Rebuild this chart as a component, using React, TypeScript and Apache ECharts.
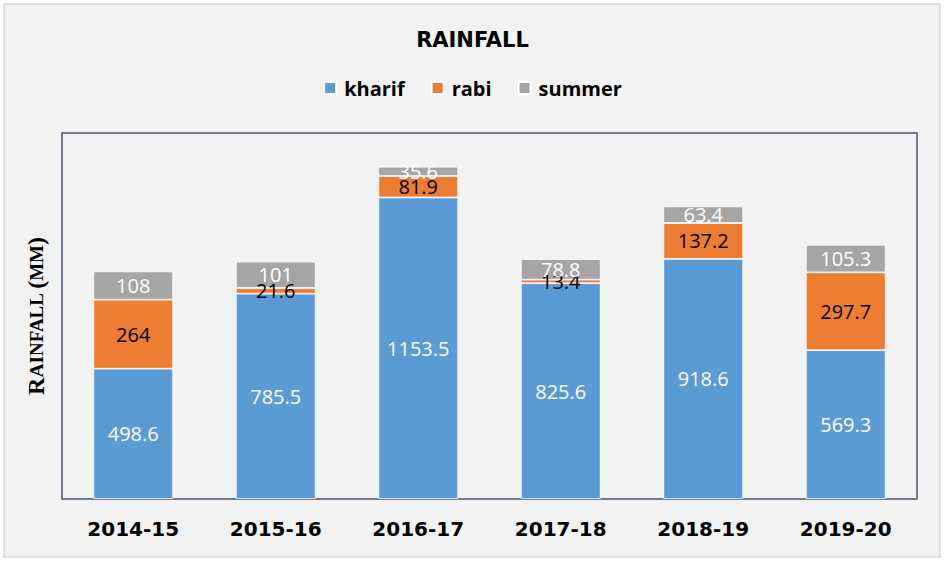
import React, { useEffect, useRef } from "react";
import * as echarts from "echarts";

const categories = ["2014-15", "2015-16", "2016-17", "2017-18", "2018-19", "2019-20"];
const kharif = [498.6, 785.5, 1153.5, 825.6, 918.6, 569.3];
const rabi = [264, 21.6, 81.9, 13.4, 137.2, 297.7];
const summer = [108, 101, 35.6, 78.8, 63.4, 105.3];

const labelBase = {
  show: true,
  position: "inside" as const,
  fontFamily: "Open Sans",
  fontSize: 20,
  textBorderWidth: 0,
};

export default function App() {
  const ref = useRef<HTMLDivElement>(null);
  useEffect(() => {
    document.body.style.margin = "0";
    if (!ref.current) return;
    const chart = echarts.init(ref.current, null, { renderer: "svg" });
    chart.setOption({
      animation: false,
      backgroundColor: "#ffffff",
      graphic: [
        {
          type: "rect",
          z: -100,
          silent: true,
          shape: { x: 4, y: 4, width: 936, height: 553 },
          style: { fill: "#f2f2f2", stroke: "#d9d9d9", lineWidth: 1.5 },
        },
      ],
      title: {
        text: "RAINFALL",
        left: "center",
        top: 24,
        textStyle: {
          fontFamily: "DejaVu Sans",
          fontWeight: "bold",
          fontSize: 21,
          color: "#000000",
        },
      },
      legend: {
        top: 73,
        left: "center",
        itemWidth: 12,
        itemHeight: 12,
        itemGap: 26,
        icon: "rect",
        textStyle: {
          fontFamily: "Open Sans",
          fontWeight: "bold",
          fontSize: 20,
          color: "#000000",
          padding: [0, 0, 0, 3],
        },
        data: ["kharif", "rabi", "summer"],
      },
      grid: {
        left: 62,
        right: 28,
        top: 133,
        bottom: 63,
        show: true,
        borderColor: "#44546a",
        borderWidth: 1.5,
        containLabel: false,
      },
      xAxis: {
        type: "category",
        data: categories,
        axisLine: { show: false },
        axisTick: { show: false },
        axisLabel: {
          margin: 20,
          fontFamily: "DejaVu Sans",
          fontWeight: "bold",
          fontSize: 20,
          color: "#000000",
        },
      },
      yAxis: {
        type: "value",
        min: 0,
        max: 1400,
        axisLine: { show: false },
        axisTick: { show: false },
        axisLabel: { show: false },
        splitLine: { show: false },
        name: "{a|R}{b|AINFALL }{a|(}{b|MM}{a|)}",
        nameLocation: "middle",
        nameRotate: 90,
        nameGap: 14,
        nameTextStyle: {
          rich: {
            a: { fontFamily: "Liberation Serif", fontWeight: "bold", fontSize: 24, color: "#000" },
            b: { fontFamily: "Liberation Serif", fontWeight: "bold", fontSize: 19, color: "#000" },
          },
        },
      },
      series: [
        {
          name: "kharif",
          type: "bar",
          stack: "total",
          barWidth: "56%",
          data: kharif,
          itemStyle: { color: "#5b9bd5", borderColor: "#ffffff", borderWidth: 0.8 },
          label: { ...labelBase, color: "#ffffff" },
        },
        {
          name: "rabi",
          type: "bar",
          stack: "total",
          data: rabi,
          itemStyle: { color: "#ed7d31", borderColor: "#ffffff", borderWidth: 0.8 },
          label: { ...labelBase, color: "#000000" },
        },
        {
          name: "summer",
          type: "bar",
          stack: "total",
          data: summer,
          itemStyle: { color: "#a5a5a5", borderColor: "#ffffff", borderWidth: 0.8 },
          label: { ...labelBase, color: "#ffffff" },
        },
      ],
    });
    return () => chart.dispose();
  }, []);
  return <div ref={ref} style={{ width: 945, height: 562 }} />;
}
